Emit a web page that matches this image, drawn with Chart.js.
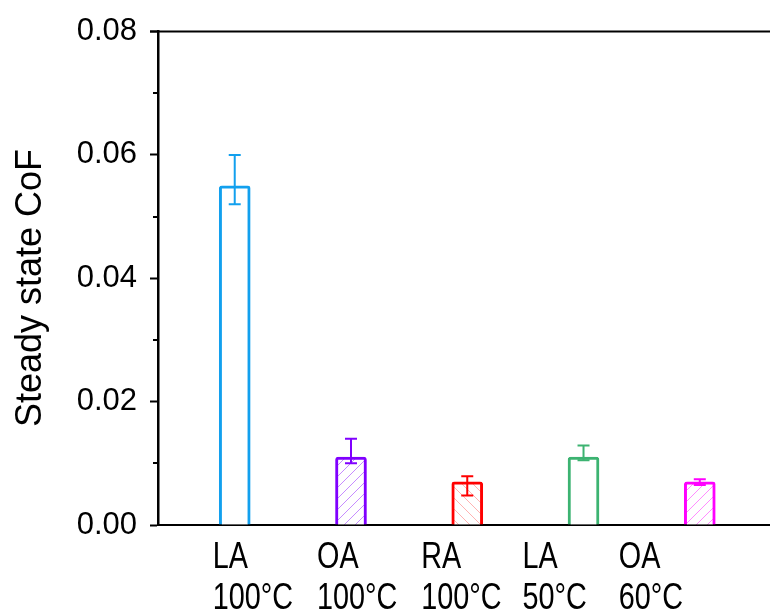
<!DOCTYPE html>
<html>
<head>
<meta charset="utf-8">
<script src="https://cdn.jsdelivr.net/npm/chart.js@4.4.1/dist/chart.umd.min.js"></script>
<style>
  html, body { margin: 0; padding: 0; background: #fff; overflow: hidden; }
  #wrap { width: 830px; height: 609px; }
</style>
</head>
<body>
<div id="wrap"><canvas id="myChart" width="830" height="609"></canvas></div>
<script>
// data
const categories = [['LA', '100°C'], ['OA', '100°C'], ['RA', '100°C'], ['LA', '50°C'], ['OA', '60°C']];
const positions = [1, 2, 3, 4, 5];
const cof = [0.055, 0.011, 0.007, 0.011, 0.007];
const errLow = [0.052, 0.010, 0.0048, 0.0105, 0.0065];
const errHigh = [0.060, 0.014, 0.0079, 0.0129, 0.0074];
const yTicks = [0, 0.02, 0.04, 0.06, 0.08];
const yMinorTicks = [0.01, 0.03, 0.05, 0.07];

// styles
const colors = ['#12a0ee', '#8000ff', '#ff0000', '#3cb371', '#ff00ff'];
const hatchColors = [null, 'rgba(128,0,255,0.45)', 'rgba(255,0,0,0.3)', null, 'rgba(255,0,255,0.45)'];
const hatchDir = [null, '/', '\\', null, '/'];
const labelShift = [-22, -34, -46, -61, -81];

const ctx = document.getElementById('myChart').getContext('2d');

function hatch(color, dir) {
    if (!color) return '#ffffff';
    const s = 11;
    const c = document.createElement('canvas');
    c.width = s; c.height = s;
    const g = c.getContext('2d');
    g.fillStyle = '#fff';
    g.fillRect(0, 0, s, s);
    g.strokeStyle = color;
    g.lineWidth = 1;
    g.beginPath();
    if (dir === '/') {
        g.moveTo(-1, s + 1); g.lineTo(s + 1, -1);
        g.moveTo(-1, 1); g.lineTo(1, -1);
        g.moveTo(s - 1, s + 1); g.lineTo(s + 1, s - 1);
    } else {
        g.moveTo(-1, -1); g.lineTo(s + 1, s + 1);
        g.moveTo(s - 1, -1); g.lineTo(s + 1, 1);
        g.moveTo(-1, s - 1); g.lineTo(1, s + 1);
    }
    g.stroke();
    return ctx.createPattern(c, 'repeat');
}

const FONT = '"Liberation Sans", Arial, sans-serif';

// error bars, minor ticks, top border, x labels, y title
const extras = {
    id: 'extras',
    afterDatasetsDraw(chart) {
        const c = chart.ctx;
        const y = chart.scales.y;
        const x = chart.scales.x;
        const area = chart.chartArea;
        const meta = chart.getDatasetMeta(0);
        c.save();
        meta.data.forEach((bar, i) => {
            const top = y.getPixelForValue(errHigh[i]);
            const bot = y.getPixelForValue(errLow[i]);
            c.strokeStyle = colors[i];
            c.lineWidth = 2;
            c.beginPath();
            c.moveTo(bar.x, top); c.lineTo(bar.x, bot);
            c.moveTo(bar.x - 6, top); c.lineTo(bar.x + 6, top);
            c.moveTo(bar.x - 6, bot); c.lineTo(bar.x + 6, bot);
            c.stroke();
        });

        c.strokeStyle = '#000';
        c.lineWidth = 2;
        c.beginPath();
        yMinorTicks.forEach(v => {
            const py = Math.round(y.getPixelForValue(v));
            c.moveTo(area.left - 5, py); c.lineTo(area.left, py);
        });
        c.moveTo(area.left - 8, area.top); c.lineTo(area.right, area.top);
        c.stroke();

        c.fillStyle = '#000';
        c.font = '36px ' + FONT;
        c.textAlign = 'left';
        c.textBaseline = 'alphabetic';
        categories.forEach((lines, i) => {
            const px = x.getPixelForValue(positions[i]) + labelShift[i];
            lines.forEach((t, j) => {
                c.save();
                c.translate(px, 568 + j * 41);
                c.scale(0.8, 1);
                c.fillText(t, 0, 0);
                c.restore();
            });
        });

        c.font = '36px ' + FONT;
        c.textAlign = 'center';
        c.textBaseline = 'middle';
        c.translate(31, 288);
        c.rotate(-Math.PI / 2);
        c.fillText('Steady state CoF', 0, 0);
        c.restore();
    }
};

const data = {
    datasets: [{
        data: cof.map((v, i) => ({ x: positions[i], y: v })),
        borderColor: colors,
        backgroundColor: colors.map((col, i) => hatch(hatchColors[i], hatchDir[i])),
        borderWidth: 3,
        borderRadius: 3,
        barThickness: 31
    }]
};

const config = {
    type: 'bar',
    data: data,
    options: {
        responsive: false,
        animation: false,
        layout: { padding: { top: 30, left: 0, right: 0, bottom: 0 } },
        plugins: {
            legend: { display: false },
            tooltip: { enabled: false }
        },
        scales: {
            x: {
                type: 'linear',
                offset: false,
                min: 0.34,
                max: 6.12,
                afterFit: s => { s.height = 84; },
                grid: { display: false },
                border: { display: true, color: '#000', width: 2 },
                ticks: { display: false }
            },
            y: {
                min: 0,
                max: 0.08,
                afterFit: s => { s.width = 158; },
                afterBuildTicks: s => { s.ticks = yTicks.map(v => ({ value: v })); },
                grid: {
                    drawOnChartArea: false,
                    drawTicks: true,
                    tickLength: 8,
                    tickWidth: 2,
                    tickColor: '#000'
                },
                border: { display: true, color: '#000', width: 2.5 },
                ticks: {
                    padding: 13,
                    color: '#000',
                    font: { family: FONT, size: 31 },
                    callback: v => v.toFixed(2)
                }
            }
        }
    },
    plugins: [extras]
};

const myChart = new Chart(ctx, config);
</script>
</body>
</html>
